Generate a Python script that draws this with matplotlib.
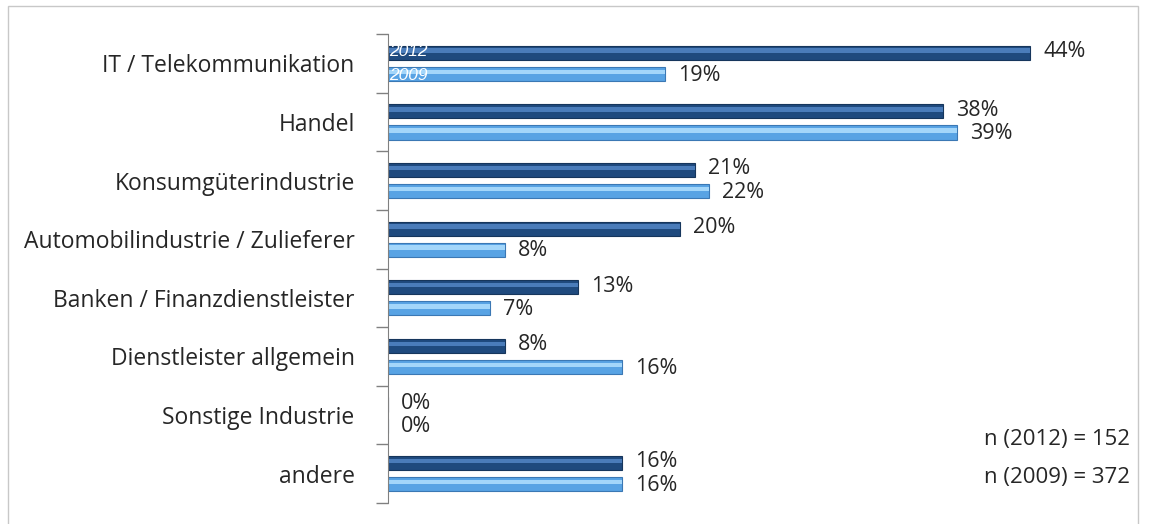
import numpy as np
import matplotlib.pyplot as plt
from matplotlib.patches import Rectangle

# data (percent)
categories = ['IT / Telekommunikation', 'Handel', 'Konsumgüterindustrie',
              'Automobilindustrie / Zulieferer', 'Banken / Finanzdienstleister',
              'Dienstleister allgemein', 'Sonstige Industrie', 'andere']
values_2012 = [44, 38, 21, 20, 13, 8, 0, 16]
values_2009 = [19, 39, 22, 8, 7, 16, 0, 16]
n_2012 = 152
n_2009 = 372

plt.rcParams['font.family'] = ['Open Sans', 'DejaVu Sans']

fig = plt.figure(figsize=(11.5, 5.24), dpi=100)
# light grey frame around the chart area
fig.patches.append(Rectangle((8 / 1150, -0.05), 1130 / 1150, 1 - 6 / 524 + 0.05,
                             transform=fig.transFigure, fill=False,
                             edgecolor='#c8c8c8', linewidth=1))

ax = fig.add_axes([388 / 1150, (524 - 503) / 524, 740 / 1150, 469 / 524])

y = np.arange(len(categories))
off = 0.18
h = 0.24

dark, dark_hi, dark_edge = '#1f4a7e', '#4a7cba', '#16365c'
light, light_hi, light_edge = '#58a3e4', '#a3d6fa', '#3b78b4'

ax.barh(y - off, values_2012, height=h, color=dark, edgecolor=dark_edge, linewidth=0.8)
ax.barh(y - off - h * 0.15, values_2012, height=h * 0.32, color=dark_hi, linewidth=0)
ax.barh(y + off, values_2009, height=h, color=light, edgecolor=light_edge, linewidth=0.8)
ax.barh(y + off - h * 0.15, values_2009, height=h * 0.32, color=light_hi, linewidth=0)

txt = '#262626'
for yi, v in zip(y, values_2012):
    ax.text(v + 0.9, yi - off - 0.02, f'{v}%', va='center', ha='left', fontsize=15.5, color=txt)
for yi, v in zip(y, values_2009):
    ax.text(v + 0.9, yi + off + 0.02, f'{v}%', va='center', ha='left', fontsize=15.5, color=txt)

# series names inside the first bars
ax.text(0.05, -off - 0.02, '2012', va='center', ha='left', color='white', style='italic',
        fontsize=12.5, family=['Liberation Sans', 'DejaVu Sans'])
ax.text(0.05, off + 0.02, '2009', va='center', ha='left', color='white', style='italic',
        fontsize=12.5, family=['Liberation Sans', 'DejaVu Sans'])

ax.set_xlim(0, 740 / 14.6)
ax.set_ylim(len(categories) - 0.5, -0.5)
ax.set_yticks(y)
ax.set_yticklabels(categories, fontsize=16.5, color=txt)
ax.set_yticks(np.arange(-0.5, len(categories), 1), minor=True)
ax.tick_params(axis='y', which='major', length=0, pad=24)
ax.tick_params(axis='y', which='minor', length=9, color='#808080', width=1)
ax.set_xticks([])
for s in ['top', 'right', 'bottom']:
    ax.spines[s].set_visible(False)
ax.spines['left'].set_color('#808080')
ax.patch.set_alpha(0)

fig.text(1130 / 1150, 1 - 440 / 524, f'n (2012) = {n_2012}', ha='right', va='center',
         fontsize=16, color=txt)
fig.text(1130 / 1150, 1 - 477 / 524, f'n (2009) = {n_2009}', ha='right', va='center',
         fontsize=16, color=txt)

fig.savefig('out.png', dpi=100)
